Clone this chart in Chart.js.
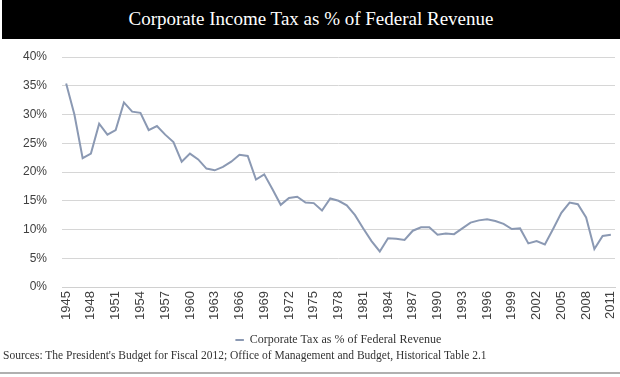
<!DOCTYPE html>
<html>
<head>
<meta charset="utf-8">
<script src="https://cdn.jsdelivr.net/npm/chart.js@4.4.1/dist/chart.umd.min.js"></script>
<style>
    body { margin: 0; background: #fff; width: 620px; height: 377px; position: relative; overflow: hidden; }
    #title {
        position: absolute; left: 2px; top: 0; width: 618px; height: 39px;
        background: #000; color: #fff; text-align: center;
        font: 19px "Liberation Serif", "DejaVu Serif", serif; line-height: 38px;
    }
    #wrap { position: absolute; left: 0; top: 39px; width: 620px; height: 317px; }
    #source {
        position: absolute; left: 3px; top: 347px;
        font: 11.5px "Liberation Serif", serif; color: #333; line-height: 16px;
    }
    #rule { position: absolute; left: 0; top: 372px; width: 620px; height: 2px; background: #b0b0b0; }
</style>
</head>
<body>
<div id="title">Corporate Income Tax as % of Federal Revenue</div>
<div id="wrap"><canvas id="taxChart"></canvas></div>
<div id="source">Sources: The President's Budget for Fiscal 2012; Office of Management and Budget, Historical Table 2.1</div>
<div id="rule"></div>
<script>
// Years on the category axis
const years = [
    '1945', '1946', '1947', '1948', '1949', '1950', '1951', '1952', '1953', '1954',
    '1955', '1956', '1957', '1958', '1959', '1960', '1961', '1962', '1963', '1964',
    '1965', '1966', '1967', '1968', '1969', '1970', '1971', '1972', '1973', '1974',
    '1975', '1976', '1977', '1978', '1979', '1980', '1981', '1982', '1983', '1984',
    '1985', '1986', '1987', '1988', '1989', '1990', '1991', '1992', '1993', '1994',
    '1995', '1996', '1997', '1998', '1999', '2000', '2001', '2002', '2003', '2004',
    '2005', '2006', '2007', '2008', '2009', '2010', '2011'
];

// Corporate tax as % of federal revenue
const corpTaxShare = [
    35.4, 30.0, 22.4, 23.2, 28.4, 26.5, 27.3, 32.1, 30.5, 30.3,
    27.3, 28.0, 26.5, 25.2, 21.8, 23.2, 22.2, 20.6, 20.3, 20.9,
    21.8, 23.0, 22.8, 18.7, 19.6, 17.0, 14.3, 15.5, 15.7, 14.7,
    14.6, 13.3, 15.4, 15.0, 14.2, 12.5, 10.2, 8.0, 6.2, 8.5,
    8.4, 8.2, 9.8, 10.4, 10.4, 9.1, 9.3, 9.2, 10.2, 11.2,
    11.6, 11.8, 11.5, 11.0, 10.1, 10.2, 7.6, 8.0, 7.4, 10.1,
    12.9, 14.7, 14.4, 12.1, 6.6, 8.9, 9.1
];

const seriesName = 'Corporate Tax as % of Federal Revenue';
const lineColor = '#8b99b3';

const ctx = document.getElementById('taxChart').getContext('2d');
new Chart(ctx, {
    type: 'line',
    data: {
        labels: years,
        datasets: [{
            label: seriesName,
            data: corpTaxShare,
            borderColor: lineColor,
            backgroundColor: lineColor,
            borderWidth: 2,
            pointRadius: 0,
            pointStyle: 'line',
            tension: 0,
            fill: false
        }]
    },
    options: {
        responsive: true,
        maintainAspectRatio: false,
        animation: false,
        layout: {
            padding: { left: 8, right: 5, top: 18, bottom: 0 }
        },
        plugins: {
            legend: {
                display: true,
                position: 'bottom',
                fullSize: false,
                labels: {
                    usePointStyle: true,
                    pointStyle: 'line',
                    boxWidth: 8,
                    boxHeight: 6,
                    color: '#333',
                    padding: 10,
                    font: { family: '"Liberation Serif", serif', size: 12 }
                }
            },
            tooltip: { enabled: false }
        },
        scales: {
            x: {
                offset: true,
                grid: { display: false, drawTicks: false },
                border: { display: true, color: '#d0d0d0', width: 1 },
                // keep the rotated end labels from shrinking the plot
                afterFit: function(scale) {
                    scale.paddingLeft = 0;
                    scale.paddingRight = 0;
                },
                ticks: {
                    autoSkip: false,
                    maxRotation: 90,
                    minRotation: 90,
                    padding: 4,
                    color: '#404040',
                    font: { family: '"Liberation Sans", Arial, sans-serif', size: 13 },
                    callback: function(value, index) {
                        return index % 3 === 0 ? years[index] : '';
                    }
                }
            },
            y: {
                min: 0,
                max: 40,
                grid: { color: '#d6d6d6', lineWidth: 1, drawTicks: false },
                border: { display: false },
                afterFit: function(scale) {
                    scale.paddingTop = 6;
                    scale.paddingBottom = 6;
                },
                ticks: {
                    stepSize: 5,
                    padding: 15,
                    color: '#404040',
                    font: { family: '"Liberation Sans", Arial, sans-serif', size: 12 },
                    callback: function(value) {
                        return value + '%';
                    }
                }
            }
        }
    }
});
</script>
</body>
</html>
